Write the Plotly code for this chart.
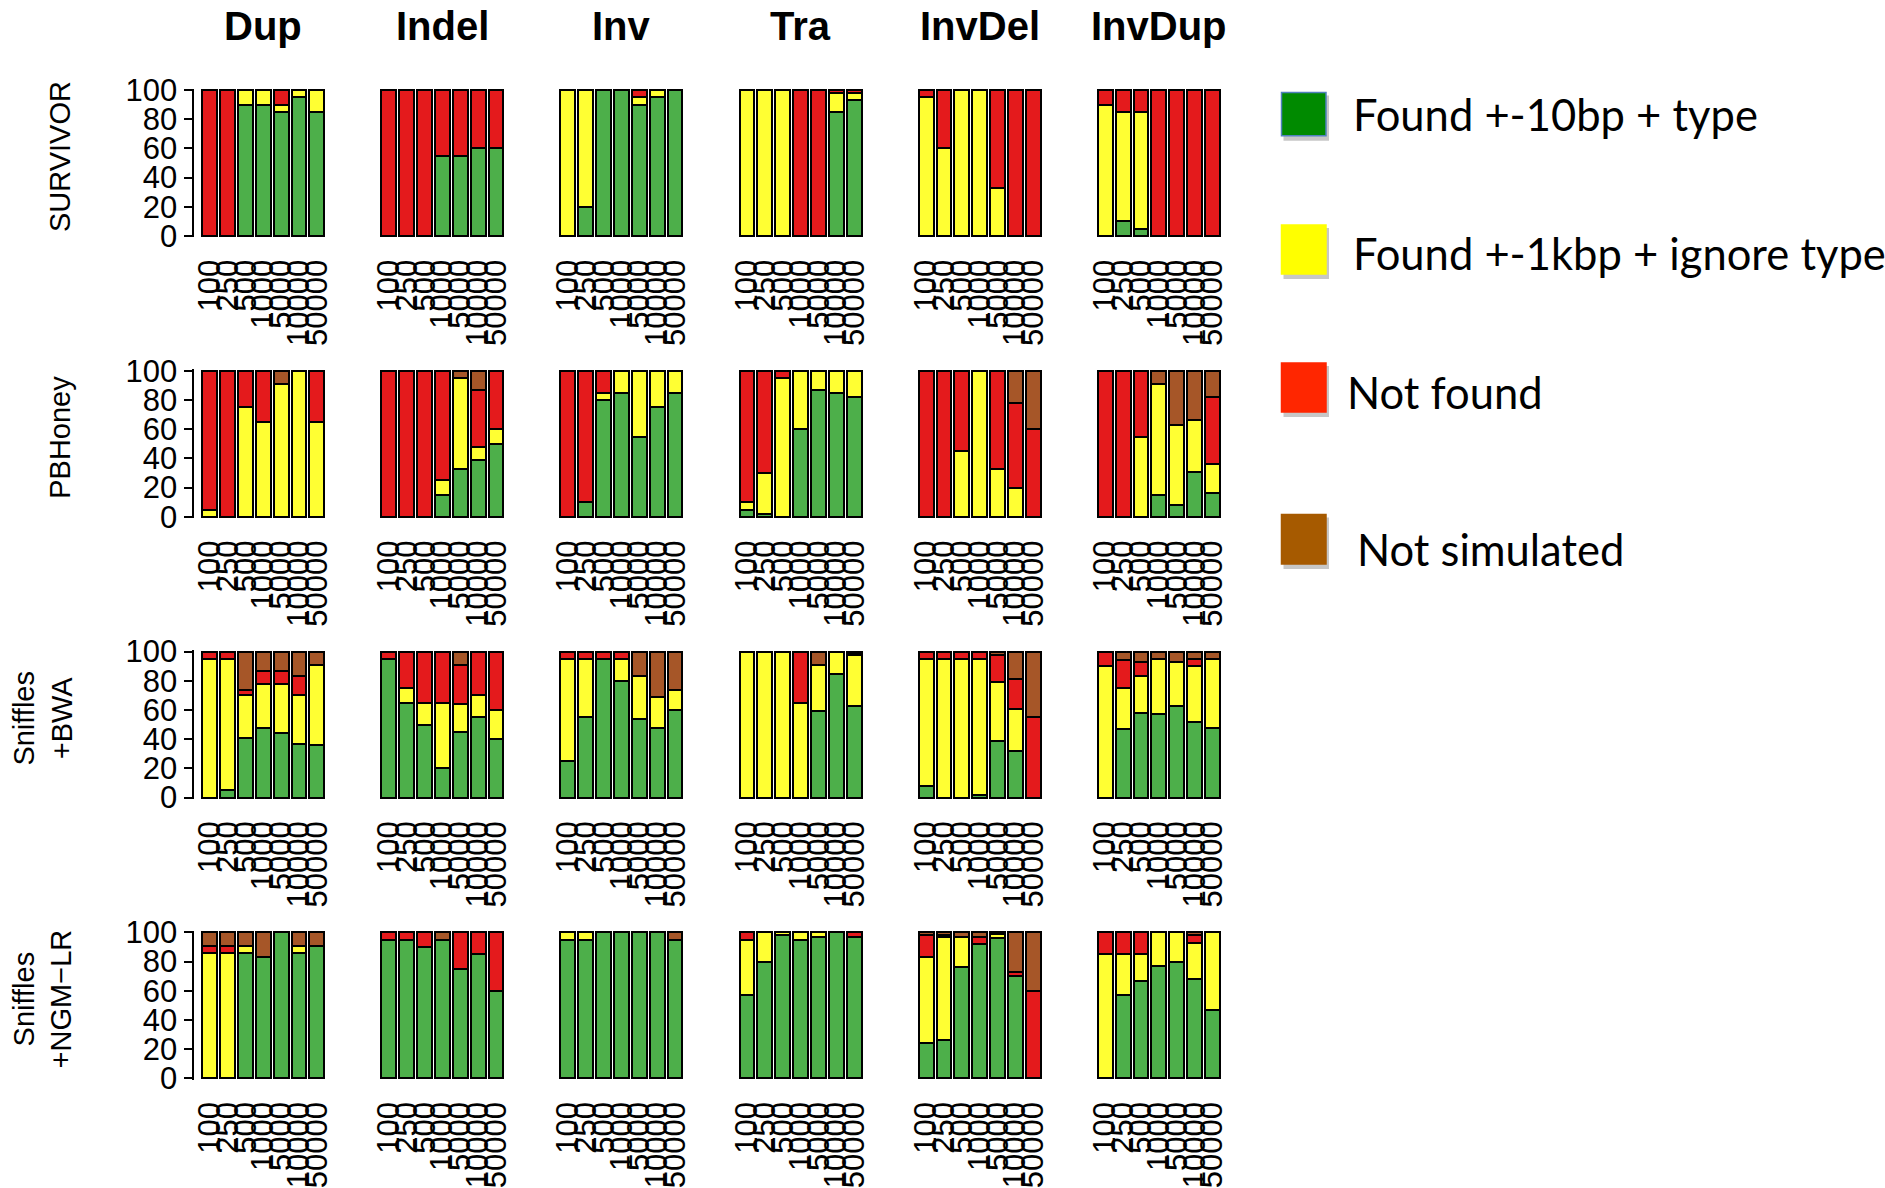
import plotly.graph_objects as go

# ---------------------------------------------------------------------------
# Data: percentage of simulated SVs per outcome, by SV size
# order of each entry: (found +-10bp + type, found +-1kbp ignore type,
#                       not found, not simulated)
# ---------------------------------------------------------------------------
sizes = ["100", "250", "500", "1000", "5000", "10000", "50000"]
sv_types = ["Dup", "Indel", "Inv", "Tra", "InvDel", "InvDup"]
tools = ["SURVIVOR", "PBHoney", "Sniffles<br>+BWA", "Sniffles<br>+NGM\u2212LR"]

survivor = {
    "Dup":    ([0, 0, 90, 90, 85, 95, 85], [0, 0, 10, 10, 5, 5, 15], [100, 100, 0, 0, 10, 0, 0], [0, 0, 0, 0, 0, 0, 0]),
    "Indel":  ([0, 0, 0, 55, 55, 60, 60], [0, 0, 0, 0, 0, 0, 0], [100, 100, 100, 45, 45, 40, 40], [0, 0, 0, 0, 0, 0, 0]),
    "Inv":    ([0, 20, 100, 100, 90, 95, 100], [100, 80, 0, 0, 5, 5, 0], [0, 0, 0, 0, 5, 0, 0], [0, 0, 0, 0, 0, 0, 0]),
    "Tra":    ([0, 0, 0, 0, 0, 85, 93], [100, 100, 100, 0, 0, 13, 5], [0, 0, 0, 100, 100, 2, 2], [0, 0, 0, 0, 0, 0, 0]),
    "InvDel": ([0, 0, 0, 0, 0, 0, 0], [95, 60, 100, 100, 33, 0, 0], [5, 40, 0, 0, 67, 100, 100], [0, 0, 0, 0, 0, 0, 0]),
    "InvDup": ([0, 10, 5, 0, 0, 0, 0], [90, 75, 80, 0, 0, 0, 0], [10, 15, 15, 100, 100, 100, 100], [0, 0, 0, 0, 0, 0, 0]),
}

pbhoney = {
    "Dup":    ([0, 0, 0, 0, 0, 0, 0], [5, 0, 75, 65, 91, 100, 65], [95, 100, 25, 35, 0, 0, 35], [0, 0, 0, 0, 9, 0, 0]),
    "Indel":  ([0, 0, 0, 15, 33, 39, 50], [0, 0, 0, 10, 62, 9, 10], [100, 100, 100, 75, 0, 39, 40], [0, 0, 0, 0, 5, 13, 0]),
    "Inv":    ([0, 10, 80, 85, 55, 75, 85], [0, 0, 5, 15, 45, 25, 15], [100, 90, 15, 0, 0, 0, 0], [0, 0, 0, 0, 0, 0, 0]),
    "Tra":    ([5, 2, 0, 60, 87, 85, 82], [5, 28, 95, 40, 13, 15, 18], [90, 70, 5, 0, 0, 0, 0], [0, 0, 0, 0, 0, 0, 0]),
    "InvDel": ([0, 0, 0, 0, 0, 0, 0], [0, 0, 45, 100, 33, 20, 0], [100, 100, 55, 0, 67, 58, 60], [0, 0, 0, 0, 0, 22, 40]),
    "InvDup": ([0, 0, 0, 15, 8, 31, 16], [0, 0, 55, 76, 55, 35, 20], [100, 100, 45, 0, 0, 0, 46], [0, 0, 0, 9, 37, 34, 18]),
}

sniffles_bwa = {
    "Dup":    ([0, 5, 41, 48, 44, 37, 36], [95, 90, 29, 30, 34, 33, 55], [5, 5, 4, 9, 9, 13, 0], [0, 0, 26, 13, 13, 17, 9]),
    "Indel":  ([95, 65, 50, 20, 45, 55, 40], [0, 10, 15, 45, 19, 15, 20], [5, 25, 35, 35, 27, 30, 40], [0, 0, 0, 0, 9, 0, 0]),
    "Inv":    ([25, 55, 95, 80, 54, 48, 60], [70, 40, 0, 15, 29, 21, 14], [5, 5, 5, 5, 0, 0, 0], [0, 0, 0, 0, 17, 31, 26]),
    "Tra":    ([0, 0, 0, 0, 59, 85, 63], [100, 100, 100, 65, 32, 15, 35], [0, 0, 0, 35, 0, 0, 1], [0, 0, 0, 0, 9, 0, 1]),
    "InvDel": ([8, 0, 0, 2, 39, 32, 0], [87, 95, 95, 93, 40, 29, 0], [5, 5, 5, 5, 19, 20, 55], [0, 0, 0, 0, 2, 19, 45]),
    "InvDup": ([0, 47, 58, 57, 63, 52, 48], [90, 28, 25, 38, 30, 38, 47], [10, 19, 10, 0, 0, 5, 0], [0, 6, 7, 5, 7, 5, 5]),
}

sniffles_ngmlr = {
    "Dup":    ([0, 0, 86, 83, 100, 86, 91], [86, 86, 5, 0, 0, 5, 0], [5, 5, 0, 0, 0, 0, 0], [9, 9, 9, 17, 0, 9, 9]),
    "Indel":  ([95, 95, 90, 95, 75, 85, 60], [0, 0, 0, 0, 0, 0, 0], [5, 5, 10, 0, 25, 15, 40], [0, 0, 0, 5, 0, 0, 0]),
    "Inv":    ([95, 95, 100, 100, 100, 100, 95], [5, 5, 0, 0, 0, 0, 0], [0, 0, 0, 0, 0, 0, 0], [0, 0, 0, 0, 0, 0, 5]),
    "Tra":    ([57, 80, 98, 95, 97, 100, 97], [38, 20, 2, 5, 3, 0, 0], [5, 0, 0, 0, 0, 0, 3], [0, 0, 0, 0, 0, 0, 0]),
    "InvDel": ([24, 26, 76, 92, 96, 70, 0], [59, 71, 21, 0, 3, 0, 0], [15, 1, 0, 5, 0, 3, 60], [2, 2, 3, 3, 1, 27, 40]),
    "InvDup": ([0, 57, 67, 77, 80, 68, 47], [85, 28, 18, 23, 20, 25, 53], [15, 15, 15, 0, 0, 5, 0], [0, 0, 0, 0, 0, 2, 0]),
}

tool_data = [survivor, pbhoney, sniffles_bwa, sniffles_ngmlr]

bar_colors = ["#4DAF4A", "#FFFF33", "#E41A1C", "#A65628"]
legend_labels = ["Found +-10bp + type", "Found +-1kbp + ignore type", "Not found", "Not simulated"]
legend_colors = ["#008A00", "#FFFF00", "#FF2600", "#A65A00"]

# ---------------------------------------------------------------------------
# Geometry in page pixels
# ---------------------------------------------------------------------------
W, H = 1885, 1188
col_left0, col_step, bars_px = 202.3, 179.1, 122.0
row_top0, row_step, row_h = 90.0, 280.8, 146.0
bargap = 1 / 6
axis_pad = 0.45  # gap between y-axis line and first bar, in category units

unit_px = bars_px / (6 + (1 - bargap))
half_bar = (1 - bargap) / 2
y_lo, y_hi = -1, 101
px_per_pct = row_h / 100


def fx(p):
    return p / W


def fy(p):
    return 1 - p / H


TICK_FONT = dict(family="Liberation Sans, Arial, sans-serif", size=31, color="black")
ROW_FONT = dict(family="Liberation Sans, Arial, sans-serif", size=29, color="black")

fig = go.Figure()
layout_axes = {}

for r, data in enumerate(tool_data):
    y100 = row_top0 + r * row_step
    y0 = y100 + row_h
    for c, sv in enumerate(sv_types):
        idx = r * len(sv_types) + c + 1
        xa = "x" if idx == 1 else f"x{idx}"
        ya = "y" if idx == 1 else f"y{idx}"
        left = col_left0 + c * col_step
        for vals, color in zip(data[sv], bar_colors):
            fig.add_trace(go.Bar(
                x=sizes, y=vals, xaxis=xa, yaxis=ya,
                marker=dict(color=color, line=dict(color="black", width=2)),
                showlegend=False, hoverinfo="skip",
            ))
        xdom = [fx(left - axis_pad * unit_px), fx(left + bars_px + axis_pad * unit_px)]
        ydom = [fy(y0 + (0 - y_lo) * px_per_pct), fy(y100 - (y_hi - 100) * px_per_pct)]
        xkey = "xaxis" if idx == 1 else f"xaxis{idx}"
        ykey = "yaxis" if idx == 1 else f"yaxis{idx}"
        layout_axes[xkey] = dict(
            domain=xdom, anchor=ya, type="category", automargin=False,
            range=[-half_bar - axis_pad, 6 + half_bar + axis_pad],
            tickmode="array", tickvals=sizes, ticktext=sizes,
            tickangle=-90, ticks="", ticklabelstandoff=15,
            tickfont=TICK_FONT, showline=False, showgrid=False, zeroline=False,
            fixedrange=True,
        )
        if c == 0:
            layout_axes[ykey] = dict(
                domain=ydom, anchor=xa, range=[y_lo, y_hi], automargin=False,
                tickmode="array", tickvals=[0, 20, 40, 60, 80, 100],
                ticks="outside", ticklen=9, tickwidth=1.5, tickcolor="black",
                showline=True, linecolor="black", linewidth=1.5,
                tickfont=TICK_FONT, showgrid=False, zeroline=False, fixedrange=True,
            )
        else:
            layout_axes[ykey] = dict(
                domain=ydom, anchor=xa, range=[y_lo, y_hi], visible=False,
                automargin=False, showgrid=False, zeroline=False, fixedrange=True,
            )

annotations = []

# Column titles (SV types)
for c, sv in enumerate(sv_types):
    cx = col_left0 + c * col_step + bars_px / 2
    annotations.append(dict(
        x=fx(cx), y=fy(26.5), xref="paper", yref="paper",
        text=f"<b>{sv}</b>", showarrow=False, xanchor="center", yanchor="middle",
        font=dict(family="Liberation Sans, Arial, sans-serif", size=40, color="black"),
    ))

# Row titles (tools)
for r, tool in enumerate(tools):
    cy = row_top0 + r * row_step + row_h / 2 - 6
    cx = 43 if "<br>" in tool else 60
    annotations.append(dict(
        x=fx(cx), y=fy(cy), xref="paper", yref="paper",
        text=tool, showarrow=False, textangle=-90, align="center",
        xanchor="center", yanchor="middle",
        font=ROW_FONT,
    ))

# Legend: coloured squares with drop shadow and labels
shapes = []
legend_boxes = [(1281.5, 92.6, 1326, 135.8), (1281.5, 225, 1326, 274),
                (1281.5, 363, 1326, 412), (1281.5, 514.5, 1326, 564)]
legend_text_pos = [(1351, 114), (1351, 252.5), (1345, 392), (1355, 549)]
for (x0, y0b, x1, y1b), col, lab, (tx, ty) in zip(legend_boxes, legend_colors,
                                                 legend_labels, legend_text_pos):
    shapes.append(dict(type="rect", xref="paper", yref="paper",
                       x0=fx(x0 + 2), x1=fx(x1 + 3), y0=fy(y1b + 5), y1=fy(y0b + 3),
                       fillcolor="rgba(0,0,0,0.22)", line=dict(width=0), layer="below"))
    shapes.append(dict(type="rect", xref="paper", yref="paper",
                       x0=fx(x0), x1=fx(x1), y0=fy(y1b), y1=fy(y0b),
                       fillcolor=col,
                       line=dict(color="#4F81BD" if col == "#008A00" else col, width=1.5)))
    annotations.append(dict(
        x=fx(tx), y=fy(ty), xref="paper", yref="paper", text=lab,
        showarrow=False, xanchor="left", yanchor="middle",
        font=dict(family="Lato, Open Sans, sans-serif", size=43.5, color="black"),
    ))

fig.update_layout(
    template="none",
    width=W, height=H, autosize=False,
    margin=dict(l=0, r=0, t=0, b=0, pad=0, autoexpand=False),
    paper_bgcolor="white", plot_bgcolor="white",
    barmode="stack", bargap=bargap,
    showlegend=False,
    annotations=annotations, shapes=shapes,
    **layout_axes,
)

fig.write_html("out.html", config={"displayModeBar": False})
